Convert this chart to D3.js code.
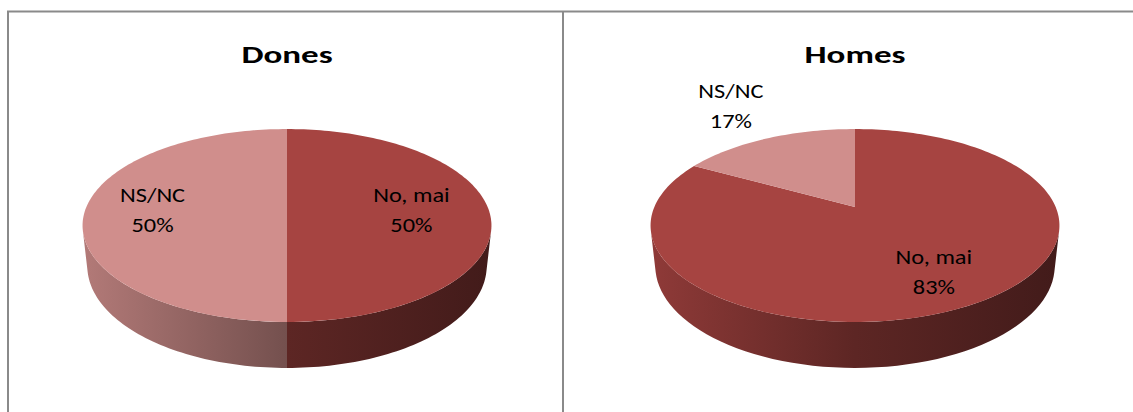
<!DOCTYPE html>
<html>
<head>
<meta charset="utf-8">
<script src="https://cdn.jsdelivr.net/npm/d3@7"></script>
<style>
  body { margin: 0; background: #fff; }
  text { font-family: Carlito, Lato, "Open Sans", sans-serif; }
</style>
</head>
<body>
<div id="chart"></div>
<script>
// values
const categories = ["No, mai", "NS/NC"];
const titles = ["Dones", "Homes"];
const donesValues = [50, 50];
const homesValues = [83, 17];
const pctLabels = [["50%", "50%"], ["83%", "17%"]];

const width = 1133, height = 412;
const colors = ["#a64441", "#d08e8c"];

const svg = d3.select("#chart").append("svg")
    .attr("width", width)
    .attr("height", height);

// panel borders
svg.append("path")
    .attr("d", "M8,412 V11.5 H1133 M563,11.5 V412")
    .attr("fill", "none")
    .attr("stroke", "#8a8a8a")
    .attr("stroke-width", 2);

// perspective camera for the 3d pies (circle radius 1)
const F = 927, D = 4.62, sa = 0.463, ca = 0.886, depth = 0.23;
function projector(cx, cy) {
    return (theta, w, r = 1) => {
        const u = Math.sin(theta) * r, v = Math.cos(theta) * r;
        const z = D + v * ca - w * sa;
        const Y = v * sa + w * ca;
        return [cx + F * u / z, cy - F * Y / z];
    };
}
// side faces the camera when 1 + D*ca*cos(theta) < 0
const frontA0 = Math.acos(-1 / (D * ca));
const frontA1 = 2 * Math.PI - frontA0;

const pie = d3.pie().sort(null).value(d => d);
const defs = svg.append("defs");
const line = d3.line();

// the source picture is stretched sideways, so the text is too
const titleStretch = 1.4, labelStretch = 1.22;

function drawPie(idx, values, cx, cy, labelPos) {
    const proj = projector(cx, cy);
    const arcs = pie(values);
    const g = svg.append("g");
    const rx = F / Math.sqrt(D * D - ca * ca);

    // side gradients, light on the left and dark on the right
    colors.forEach((c, i) => {
        const base = d3.rgb(c);
        const grad = defs.append("linearGradient")
            .attr("id", `side${idx}_${i}`)
            .attr("gradientUnits", "userSpaceOnUse")
            .attr("x1", cx - rx).attr("x2", cx + rx)
            .attr("y1", 0).attr("y2", 0);
        [[0, 0.86], [0.5, 0.56], [1, 0.4]].forEach(([o, k]) => {
            grad.append("stop")
                .attr("offset", o)
                .attr("stop-color", d3.rgb(base.r * k, base.g * k, base.b * k));
        });
    });

    // side walls (front facing part only)
    arcs.forEach((a, i) => {
        const a0 = Math.max(a.startAngle, frontA0);
        const a1 = Math.min(a.endAngle, frontA1);
        if (a1 <= a0) return;
        const n = 60;
        const top = d3.range(n + 1).map(k => proj(a0 + (a1 - a0) * k / n, 0));
        const bot = d3.range(n + 1).map(k => proj(a1 - (a1 - a0) * k / n, -depth));
        g.append("path")
            .attr("d", line(top.concat(bot)) + "Z")
            .attr("fill", `url(#side${idx}_${i})`);
    });

    // top faces
    arcs.forEach((a, i) => {
        const n = Math.max(4, Math.ceil((a.endAngle - a.startAngle) * 40));
        const pts = [proj(0, 0, 0)].concat(
            d3.range(n + 1).map(k => proj(a.startAngle + (a.endAngle - a.startAngle) * k / n, 0)));
        g.append("path")
            .attr("d", line(pts) + "Z")
            .attr("fill", colors[i]);
    });

    // data labels
    arcs.forEach((a, i) => {
        const mid = (a.startAngle + a.endAngle) / 2;
        const [r, dy] = labelPos[i];
        const [lx, ly] = proj(mid, 0, r);
        const t = g.append("text")
            .attr("transform", `translate(${lx},${ly - 5 + dy}) scale(${labelStretch},1)`)
            .attr("text-anchor", "middle")
            .attr("font-size", 20)
            .attr("fill", "#000");
        t.append("tspan").attr("x", 0).text(categories[i]);
        t.append("tspan").attr("x", 0).attr("dy", 30).text(pctLabels[idx][i]);
    });

    svg.append("text")
        .attr("transform", `translate(${cx},63) scale(${titleStretch},1)`)
        .attr("text-anchor", "middle")
        .attr("font-size", 25)
        .attr("font-weight", "bold")
        .attr("fill", "#000")
        .text(titles[idx]);
}

drawPie(0, donesValues, 287, 207, [[0.62, 0], [0.67, 0]]);
drawPie(1, homesValues, 855, 207, [[0.685, 0], [1.52, -7]]);
</script>
</body>
</html>
